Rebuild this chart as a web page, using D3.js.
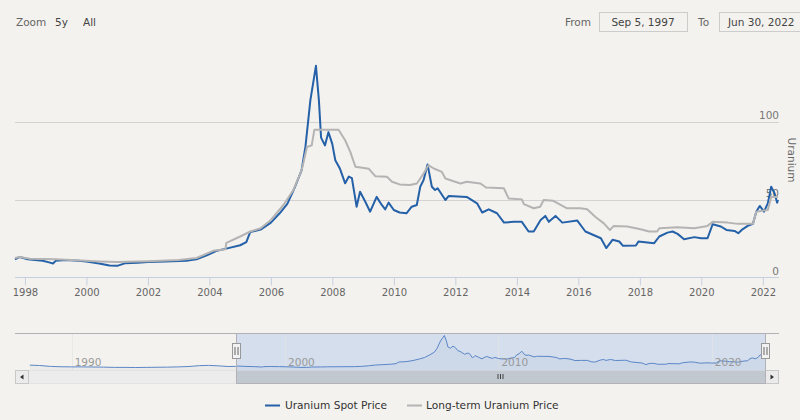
<!DOCTYPE html>
<html>
<head>
<meta charset="utf-8">
<script src="https://cdnjs.cloudflare.com/ajax/libs/d3/7.8.5/d3.min.js"></script>
<style>
  body { margin: 0; background: #f4f2ee; }
  svg { display: block; font-family: "DejaVu Sans", sans-serif; }
</style>
</head>
<body>
<div id="graph"></div>
<script>
// uranium spot price, USD/lb
var spotDates = ["1997-09-05","1997-11-01","1998-02-01","1998-08-01","1998-10-15","1998-12-01","1999-01-01","1999-05-01","1999-10-01","2000-01-01","2000-06-01","2000-10-01","2001-01-01","2001-04-01","2001-09-01","2002-01-01","2002-08-01","2003-04-01","2003-08-01","2003-12-01","2004-04-01","2004-08-01","2005-01-01","2005-03-15","2005-05-01","2005-09-01","2006-01-01","2006-04-15","2006-07-15","2006-10-15","2006-12-31","2007-02-15","2007-04-15","2007-06-20","2007-07-25","2007-08-20","2007-10-05","2007-11-15","2007-12-31","2008-02-05","2008-04-01","2008-06-01","2008-07-15","2008-08-20","2008-10-15","2008-11-25","2009-01-25","2009-03-25","2009-06-10","2009-08-10","2009-09-20","2009-10-30","2009-12-31","2010-03-10","2010-05-30","2010-08-01","2010-09-30","2010-11-10","2010-12-20","2011-02-05","2011-03-28","2011-05-05","2011-06-05","2011-09-05","2011-10-15","2012-05-15","2012-09-15","2012-11-15","2013-02-01","2013-05-10","2013-08-01","2013-11-25","2014-03-01","2014-05-20","2014-07-20","2014-10-10","2014-12-05","2015-01-15","2015-04-05","2015-06-25","2015-12-20","2016-03-25","2016-09-25","2016-11-28","2017-02-10","2017-05-01","2017-06-15","2017-11-15","2017-12-15","2018-06-20","2018-08-20","2018-11-25","2019-01-25","2019-03-25","2019-06-10","2019-10-10","2019-12-31","2020-03-15","2020-05-15","2020-08-20","2020-10-25","2021-01-30","2021-03-15","2021-04-25","2021-07-05","2021-09-05","2021-10-15","2021-11-25","2022-01-15","2022-03-01","2022-04-10","2022-05-20","2022-06-20","2022-06-30"];
var spotValues = [12,13.5,12,11,10,9.3,11,11.5,11,10.5,9.3,8,7.8,9.4,9.8,10.3,10.6,11,12,14.5,17.5,19,21,23,29.5,31,35.5,41.5,47.5,58.5,69,84,114,136,114,90,85,93.5,86,75.5,70,60.7,65,64,45.7,55.3,49,42.5,52,46.8,44,48.3,43.6,42,41.5,45.7,46.8,58.5,62.8,72.8,58.5,56.4,57.5,50,52.6,52,47.9,42,44,41.5,35.5,36,36,29.8,29.8,37.2,39.8,36,39.8,35.5,36.8,29.8,25.5,19.2,24.5,23.4,20.6,20.8,23.4,22.3,26.6,29.1,29.8,28.3,24.9,26.2,25.5,25.5,34.5,33,30.8,30.2,28.7,30.8,33.4,34.7,42.5,46.2,42.5,47.8,58.5,54.3,48.3,50];

// long-term uranium price
var termDates = ["1997-09-05","1997-11-01","1998-03-01","1999-01-01","2000-01-01","2000-06-01","2001-01-01","2002-01-01","2003-01-01","2003-08-01","2004-02-15","2004-07-10","2004-07-20","2005-01-01","2005-05-01","2005-09-01","2006-01-01","2006-05-30","2006-09-25","2006-12-31","2007-01-25","2007-03-05","2007-05-01","2007-06-01","2008-03-15","2008-06-01","2008-08-01","2008-10-01","2009-03-10","2009-05-25","2009-10-10","2009-12-10","2010-03-10","2010-07-10","2010-10-01","2010-12-20","2011-02-15","2011-04-20","2011-07-25","2011-09-05","2012-03-01","2012-05-15","2012-10-25","2012-12-31","2013-07-30","2013-09-25","2014-03-01","2014-03-25","2014-07-20","2014-10-05","2014-11-15","2015-03-10","2015-08-20","2016-01-25","2016-04-15","2016-07-20","2016-10-30","2017-01-10","2017-02-25","2017-08-05","2018-01-10","2018-04-20","2018-07-25","2018-08-20","2019-03-25","2019-10-10","2020-03-15","2020-05-15","2020-11-10","2021-03-10","2021-09-05","2021-10-15","2022-03-01","2022-04-10","2022-06-30"];
var termValues = [12.8,13.5,12.3,12,11,10.6,10.2,10.8,11.5,12.8,17.4,18.5,22.5,26.6,29.8,31.9,37.2,46.8,56.4,69,74.5,84,85,95,95,88.3,80.8,71.3,70,65.3,64.9,61.7,60,59.6,60.6,67,72.3,70.2,68,63.8,60.6,61.7,60.6,58,57.5,51,50.4,47.4,44.7,45.7,50,49.5,44.7,44.7,44,39.3,35,30.8,33.4,33,31.3,29.8,29.8,31.9,32.5,31.9,33.4,36.1,35.5,34.7,34.7,42.5,43.6,52,52];

// older spot prices, only shown in the navigator
var earlyDates = ["1988-01-15","1988-07-01","1989-01-01","1989-07-01","1990-01-01","1990-07-01","1991-01-01","1991-07-01","1992-01-01","1992-07-01","1993-01-01","1993-07-01","1994-01-01","1994-07-01","1995-01-01","1995-07-01","1996-01-01","1996-06-01","1996-12-01","1997-05-01"];
var earlyValues = [17,15.5,12,10.5,10,10,9.5,9,8,8,7.5,8,8.5,9,10,11.5,15,16,14,11.5];

var xTickYears = [1998,2000,2002,2004,2006,2008,2010,2012,2014,2016,2018,2020,2022];
var yTicks = [0, 50, 100];
var navTickYears = [1990, 2000, 2010, 2020];

var parse = d3.timeParse("%Y-%m-%d");
var spot = spotDates.map(function (d, i) { return { date: parse(d), value: spotValues[i] }; });
var term = termDates.map(function (d, i) { return { date: parse(d), value: termValues[i] }; });
var early = earlyDates.map(function (d, i) { return { date: parse(d), value: earlyValues[i] }; });
var navData = early.concat(spot);

var width = 800, height = 420;
var plot = { left: 15, right: 778, top: 45, bottom: 278 };

var svg = d3.select("#graph").append("svg")
  .attr("width", width)
  .attr("height", height);

var x = d3.scaleTime()
  .domain([parse("1997-09-05"), parse("2022-06-30")])
  .range([plot.left, plot.right]);

var y = d3.scaleLinear()
  .domain([0, 100])
  .range([plot.bottom, 122]);

// horizontal grid
svg.append("g")
  .selectAll("line")
  .data(yTicks.filter(function (d) { return d > 0; }))
  .enter().append("line")
  .attr("x1", plot.left).attr("x2", 779)
  .attr("y1", function (d) { return Math.round(y(d)) + 0.5; })
  .attr("y2", function (d) { return Math.round(y(d)) + 0.5; })
  .style("stroke", "#d3d3d3");

// x axis
var xAxis = svg.append("g")
  .attr("transform", "translate(0," + (plot.bottom - 0.5) + ")")
  .call(d3.axisBottom(x)
    .tickValues(xTickYears.map(function (d) { return new Date(d, 0, 1); }))
    .tickFormat(d3.timeFormat("%Y"))
    .tickSize(8).tickSizeOuter(0).tickPadding(3));
xAxis.select(".domain").attr("d", "M" + plot.left + ",0H779").style("stroke", "#c4d0df");
xAxis.selectAll(".tick line").style("stroke", "#c4d0df");
xAxis.selectAll("text").style("fill", "#666").style("font-size", "10px")
  .style("font-family", "DejaVu Sans, sans-serif");

// y labels, right side inside plot
svg.append("g")
  .selectAll("text")
  .data(yTicks)
  .enter().append("text")
  .attr("x", 779)
  .attr("y", function (d) { return y(d) - 3; })
  .attr("text-anchor", "end")
  .style("font-size", "10.5px")
  .style("fill", "#777")
  .text(function (d) { return d; });

svg.append("text")
  .attr("transform", "translate(788,160) rotate(90)")
  .attr("text-anchor", "middle")
  .style("font-size", "10.5px")
  .style("fill", "#666")
  .text("Uranium");

var line = d3.line()
  .x(function (d) { return x(d.date); })
  .y(function (d) { return y(d.value); });

svg.append("path")
  .datum(spot)
  .attr("d", line)
  .style("fill", "none")
  .style("stroke", "#2461a8")
  .style("stroke-width", 2)
  .style("stroke-linejoin", "round");

svg.append("path")
  .datum(term)
  .attr("d", line)
  .style("fill", "none")
  .style("stroke", "#b4b4b4")
  .style("stroke-width", 2)
  .style("stroke-linejoin", "round");

// range selector
var rangeSel = svg.append("g").style("font-size", "10.5px");
rangeSel.append("text").attr("x", 16).attr("y", 26).style("fill", "#666").text("Zoom");
rangeSel.append("text").attr("x", 55).attr("y", 26).style("fill", "#444").text("5y");
rangeSel.append("text").attr("x", 83).attr("y", 26).style("fill", "#444").text("All");
rangeSel.append("text").attr("x", 565).attr("y", 26).style("fill", "#666").text("From");
rangeSel.append("rect").attr("x", 599.5).attr("y", 12.5).attr("width", 88).attr("height", 19)
  .style("fill", "#f4f2ee").style("stroke", "#cccccc");
rangeSel.append("text").attr("x", 643).attr("y", 26).attr("text-anchor", "middle").style("fill", "#444").text("Sep 5, 1997");
rangeSel.append("text").attr("x", 698).attr("y", 26).style("fill", "#666").text("To");
rangeSel.append("rect").attr("x", 719.5).attr("y", 12.5).attr("width", 90).attr("height", 19)
  .style("fill", "#f4f2ee").style("stroke", "#cccccc");
rangeSel.append("text").attr("x", 728).attr("y", 26).style("fill", "#444").text("Jun 30, 2022");

// navigator
var nav = { left: 29, right: 765, top: 333, bottom: 370, sb: 383 };
var nx = d3.scaleTime()
  .domain([parse("1988-01-01"), parse("2022-06-30")])
  .range([nav.left, nav.right]);
var ny = d3.scaleLinear()
  .domain(d3.extent(navData, function (d) { return d.value; }))
  .range([367.5, 335.5]);

var ng = svg.append("g");
var selL = Math.round(nx(parse("1997-09-05"))) + 0.5;
var selR = nav.right + 0.5;

ng.append("rect")
  .attr("x", selL).attr("y", nav.top)
  .attr("width", selR - selL).attr("height", nav.bottom - nav.top)
  .style("fill", "#d4deec");

ng.selectAll(".ngrid")
  .data(navTickYears)
  .enter().append("line")
  .attr("x1", function (d) { return Math.round(nx(new Date(d, 0, 1))) + 0.5; })
  .attr("x2", function (d) { return Math.round(nx(new Date(d, 0, 1))) + 0.5; })
  .attr("y1", nav.top).attr("y2", nav.bottom)
  .style("stroke", "#e4e4e4").style("opacity", 0.7);

ng.append("path")
  .datum(navData)
  .attr("d", d3.area()
    .x(function (d) { return nx(d.date); })
    .y0(nav.bottom)
    .y1(function (d) { return ny(d.value); }))
  .style("fill", "#4572a7").style("opacity", 0.05);

ng.append("path")
  .datum(navData)
  .attr("d", d3.line()
    .x(function (d) { return nx(d.date); })
    .y(function (d) { return ny(d.value); }))
  .style("fill", "none")
  .style("stroke", "#5b86c8")
  .style("stroke-width", 1);

ng.selectAll(".nlabel")
  .data(navTickYears)
  .enter().append("text")
  .attr("x", function (d) { return nx(new Date(d, 0, 1)) + 3; })
  .attr("y", 366)
  .style("font-size", "10.5px")
  .style("fill", "#999")
  .text(function (d) { return d; });

// scrollbar
ng.append("rect")
  .attr("x", 15.5).attr("y", nav.bottom + 0.5)
  .attr("width", 763).attr("height", nav.sb - nav.bottom)
  .style("fill", "#ececec").style("stroke", "#e2e2e2");
ng.append("rect")
  .attr("x", selL).attr("y", nav.bottom + 0.5)
  .attr("width", selR - selL).attr("height", nav.sb - nav.bottom)
  .style("fill", "#c2c8d0");
[498, 500.5, 503].forEach(function (gx) {
  ng.append("line").attr("x1", gx).attr("x2", gx).attr("y1", 374).attr("y2", 379)
    .style("stroke", "#444").style("stroke-width", 1);
});
[[15.5, -1], [765.5, 1]].forEach(function (b) {
  ng.append("rect")
    .attr("x", b[0]).attr("y", nav.bottom + 0.5)
    .attr("width", 13).attr("height", nav.sb - nav.bottom)
    .style("fill", "#ebebeb").style("stroke", "#c8c8c8");
  var cx = b[0] + 6.5, cy = nav.bottom + 7;
  ng.append("path")
    .attr("d", "M" + (cx + b[1] * 2) + "," + cy + "L" + (cx - b[1] * 1.5) + "," + (cy - 2.5) + "L" + (cx - b[1] * 1.5) + "," + (cy + 2.5) + "Z")
    .style("fill", "#333");
});

// outline
ng.append("path")
  .attr("d", "M15," + (nav.top + 0.5) + "H779"
    + "M" + selL + "," + nav.top + "V" + (nav.sb + 0.5) + "H" + selR + "V" + nav.top)
  .style("fill", "none")
  .style("stroke", "#b2b1b6");

// handles
[selL, selR].forEach(function (hx) {
  ng.append("rect")
    .attr("x", hx - 4).attr("y", 343.5)
    .attr("width", 8).attr("height", 15)
    .style("fill", "#f2f2f2").style("stroke", "#999");
  [hx - 1.5, hx + 1.5].forEach(function (lx) {
    ng.append("line").attr("x1", lx).attr("x2", lx).attr("y1", 347).attr("y2", 355)
      .style("stroke", "#666");
  });
});

// legend
var legend = svg.append("g").style("font-size", "10.6px");
legend.append("line").attr("x1", 265).attr("x2", 280).attr("y1", 405.5).attr("y2", 405.5)
  .style("stroke", "#2461a8").style("stroke-width", 2);
legend.append("text").attr("x", 285).attr("y", 409).style("fill", "#333").text("Uranium Spot Price");
legend.append("line").attr("x1", 407).attr("x2", 422).attr("y1", 405.5).attr("y2", 405.5)
  .style("stroke", "#b4b4b4").style("stroke-width", 2);
legend.append("text").attr("x", 426).attr("y", 409).style("fill", "#333").text("Long-term Uranium Price");
</script>
</body>
</html>
